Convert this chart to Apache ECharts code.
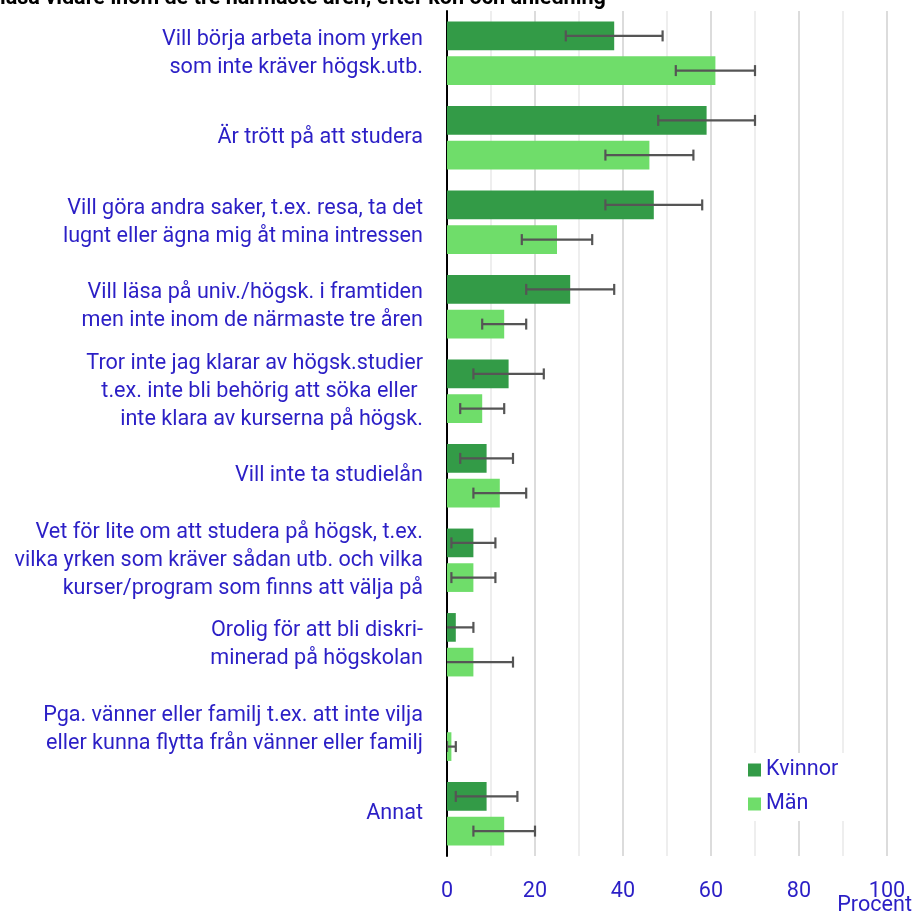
<!DOCTYPE html>
<html>
<head>
<meta charset="utf-8">
<script src="https://cdn.jsdelivr.net/npm/echarts@6/dist/echarts.min.js"></script>
<style>
  html, body { margin: 0; padding: 0; background: #fff; }
  #chart { width: 916px; height: 913px; }
</style>
</head>
<body>
<div id="chart"></div>
<script>
const categories = [
  'Vill börja arbeta inom yrken\nsom inte kräver högsk.utb.',
  'Är trött på att studera',
  'Vill göra andra saker, t.ex. resa, ta det\nlugnt eller ägna mig åt mina intressen',
  'Vill läsa på univ./högsk. i framtiden\nmen inte inom de närmaste tre åren',
  'Tror inte jag klarar av högsk.studier\nt.ex. inte bli behörig att söka eller \ninte klara av kurserna på högsk.',
  'Vill inte ta studielån',
  'Vet för lite om att studera på högsk, t.ex.\nvilka yrken som kräver sådan utb. och vilka\nkurser/program som finns att välja på',
  'Orolig för att bli diskri-\nminerad på högskolan',
  'Pga. vänner eller familj t.ex. att inte vilja\neller kunna flytta från vänner eller familj',
  'Annat'
]

const kvinnor = [38, 59, 47, 28, 14, 9, 6, 2, 0, 9]
const kvinnorLow = [27, 48, 36, 18, 6, 3, 1, -2, null, 2]
const kvinnorHigh = [49, 70, 58, 38, 22, 15, 11, 6, null, 16]

const man = [61, 46, 25, 13, 8, 12, 6, 6, 1, 13]
const manLow = [52, 36, 17, 8, 3, 6, 1, -3, 0, 6]
const manHigh = [70, 56, 33, 18, 13, 18, 11, 15, 2, 20]

const blue = '#2b1fc6'
const fs = 21.6
const barCategoryGap = 0.25
const barGap = 0.21

function errorData(low, high) {
  return low.map((lo, i) => lo == null ? [i, '-', '-'] : [i, lo, high[i]])
}

// whiskers placed at the same offset as the bar of series `slot`
function errorRenderer(slot) {
  return function (params, api) {
    const lo = api.value(1)
    const hi = api.value(2)
    if (isNaN(lo) || isNaN(hi)) return
    const cat = api.value(0)
    const band = api.size([0, 1])[1]
    const bw = band * (1 - barCategoryGap) / (2 + barGap)
    const off = (slot === 0 ? -1 : 1) * bw * (1 + barGap) / 2
    const p1 = api.coord([lo, cat])
    const p2 = api.coord([hi, cat])
    const y = p1[1] + off
    const cap = 5.5
    const style = { stroke: '#555', lineWidth: 2.2 }
    return {
      type: 'group',
      children: [
        { type: 'line', shape: { x1: p1[0], y1: y, x2: p2[0], y2: y }, style },
        { type: 'line', shape: { x1: p1[0], y1: y - cap, x2: p1[0], y2: y + cap }, style },
        { type: 'line', shape: { x1: p2[0], y1: y - cap, x2: p2[0], y2: y + cap }, style }
      ]
    }
  }
}

const chart = echarts.init(document.getElementById('chart'))
chart.setOption({
  animation: false,
  textStyle: { fontFamily: 'Roboto' },
  title: [
    {
      text: 'läsa vidare inom de tre närmaste åren, efter kön och anledning',
      left: 0,
      top: -12,
      padding: 0,
      textStyle: { fontSize: fs, fontWeight: 'bold', color: '#000', fontFamily: 'Roboto' }
    },
    {
      // axis unit under the last tick
      text: 'Procent',
      right: 4,
      top: 895,
      padding: 0,
      textStyle: { fontSize: fs, fontWeight: 'normal', color: blue, fontFamily: 'Roboto' }
    }
  ],
  legend: {
    orient: 'vertical',
    left: 738,
    top: 753,
    padding: [6, 20, 6, 10],
    backgroundColor: '#fff',
    itemWidth: 13,
    itemHeight: 13,
    itemGap: 12,
    icon: 'rect',
    textStyle: { fontSize: fs, lineHeight: 20, color: blue, fontFamily: 'Roboto' },
    data: ['Kvinnor', 'Män']
  },
  grid: { left: 447, right: 29, top: 11, bottom: 57, containLabel: false, outerBoundsMode: 'none' },
  xAxis: {
    type: 'value',
    min: 0,
    max: 100,
    interval: 20,
    axisLine: { show: false },
    axisTick: { show: false },
    axisLabel: { fontSize: fs, color: blue, margin: 25 },
    splitLine: { show: true, lineStyle: { color: '#dcdcdc', width: 2 } },
    minorTick: { show: false, splitNumber: 2 },
    minorSplitLine: { show: true, lineStyle: { color: '#eeeeee', width: 2 } }
  },
  yAxis: {
    type: 'category',
    inverse: true,
    data: categories,
    axisLine: { show: true, lineStyle: { color: '#000', width: 2 } },
    axisTick: { show: false },
    axisLabel: { fontSize: fs, lineHeight: 28, color: blue, margin: 24, align: 'right' }
  },
  series: [
    {
      name: 'Kvinnor',
      type: 'bar',
      data: kvinnor,
      barCategoryGap: '25%',
      barGap: '21%',
      itemStyle: { color: '#339b47' }
    },
    {
      name: 'Män',
      type: 'bar',
      data: man,
      barCategoryGap: '25%',
      barGap: '21%',
      itemStyle: { color: '#6fdd6a' }
    },
    {
      name: 'Kvinnor fel',
      type: 'custom',
      renderItem: errorRenderer(0),
      data: errorData(kvinnorLow, kvinnorHigh),
      encode: { x: [1, 2], y: 0 },
      clip: true,
      z: 5
    },
    {
      name: 'Män fel',
      type: 'custom',
      renderItem: errorRenderer(1),
      data: errorData(manLow, manHigh),
      encode: { x: [1, 2], y: 0 },
      clip: true,
      z: 5
    }
  ]
})
</script>
</body>
</html>
